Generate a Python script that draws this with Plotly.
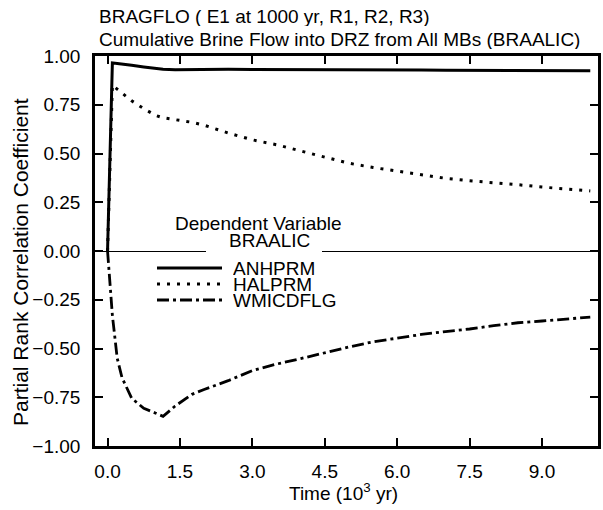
import plotly.graph_objects as go

# ---- data ----
time_kyr = [0, 0.1, 0.2, 0.3, 0.5, 0.75, 1.0, 1.15, 1.4, 1.75, 2.0, 2.5, 3.0, 3.5,
            4.0, 4.5, 5.0, 5.5, 6.0, 6.5, 7.0, 7.5, 8.0, 8.5, 9.0, 9.5, 10.0]
anhprm = [0, 0.965, 0.962, 0.958, 0.952, 0.944, 0.936, 0.932, 0.930, 0.931, 0.932, 0.932,
          0.931, 0.931, 0.930, 0.930, 0.929, 0.929, 0.928, 0.928, 0.927, 0.927, 0.926,
          0.926, 0.925, 0.925, 0.924]
halprm = [0, 0.85, 0.83, 0.81, 0.77, 0.73, 0.695, 0.683, 0.672, 0.66, 0.645, 0.605,
          0.57, 0.545, 0.513, 0.48, 0.45, 0.428, 0.41, 0.389, 0.373, 0.36, 0.351,
          0.34, 0.328, 0.317, 0.308]
wmicdflg = [0, -0.33, -0.55, -0.65, -0.755, -0.807, -0.832, -0.848, -0.795, -0.735,
            -0.71, -0.665, -0.613, -0.58, -0.552, -0.521, -0.492, -0.466, -0.447,
            -0.428, -0.413, -0.40, -0.383, -0.368, -0.359, -0.348, -0.339]

series_names = ["ANHPRM", "HALPRM", "WMICDFLG"]
x_ticks = [0.0, 1.5, 3.0, 4.5, 6.0, 7.5, 9.0]
y_ticks = [-1.0, -0.75, -0.5, -0.25, 0.0, 0.25, 0.5, 0.75, 1.0]
title_lines = ["BRAGFLO ( E1 at 1000 yr, R1, R2, R3)",
               "Cumulative Brine Flow into DRZ from All MBs (BRAALIC)"]
x_title = "Time (10<sup>3</sup> yr)"
y_title = "Partial Rank Correlation Coefficient"
legend_header = ["Dependent Variable", "BRAALIC"]

FONT = "Liberation Sans, Arial, Helvetica, sans-serif"
FS = 19
W, H = 603, 510
ML, MR, MT, MB = 95, 5, 56, 64
PW, PH = W - ML - MR, H - MT - MB

def px(xp):
    return (xp - ML) / PW

def py(yp):
    return (H - MB - yp) / PH

def txt(size=FS):
    return dict(size=size, color="black", family=FONT)

styles = [
    dict(color="black", width=3, dash="solid"),
    dict(color="black", width=3, dash="3px,7px"),
    dict(color="black", width=2.8, dash="12px,4px,3px,4px"),
]

fig = go.Figure()
for name, vals, st in zip(series_names, [anhprm, halprm, wmicdflg], styles):
    fig.add_trace(go.Scatter(x=time_kyr, y=vals, mode="lines", name=name,
                             line=st, showlegend=False, hoverinfo="skip"))

shapes = []
annotations = []
# titles as positioned text
for line, ty in zip(title_lines, [16, 39]):
    annotations.append(dict(text=line, xref="paper", yref="paper", x=px(97), y=py(ty),
                            xanchor="left", yanchor="middle", showarrow=False,
                            font=txt(), height=20))
annotations.append(dict(text=x_title, xref="paper", yref="paper", x=px(343), y=py(492),
                        xanchor="center", yanchor="middle", showarrow=False, font=txt()))
annotations.append(dict(text=y_title, xref="paper", yref="paper", x=px(20), y=py(262),
                        xanchor="center", yanchor="middle", textangle=-90,
                        showarrow=False, font=txt(21)))
# gap in zero line behind the legend header
shapes.append(dict(type="rect", xref="paper", yref="paper", x0=px(206), x1=px(322),
                   y0=py(256), y1=py(246), fillcolor="white", line=dict(width=0),
                   layer="above"))
annotations.append(dict(text=legend_header[0], xref="paper", yref="paper",
                        x=px(258), y=py(223), xanchor="center", yanchor="middle",
                        showarrow=False, font=txt(), height=16))
annotations.append(dict(text=legend_header[1], xref="paper", yref="paper",
                        x=px(269), y=py(240), xanchor="center", yanchor="middle",
                        showarrow=False, font=txt(), height=16))
legend_y = [268, 284, 300]
for name, st, ly in zip(series_names, styles, legend_y):
    shapes.append(dict(type="line", xref="paper", yref="paper", x0=px(157), x1=px(222),
                       y0=py(ly), y1=py(ly), line=st, layer="above"))
    annotations.append(dict(text=name, xref="paper", yref="paper", x=px(231), y=py(ly),
                            xanchor="left", yanchor="middle", showarrow=False,
                            font=txt(), height=15))

fig.update_layout(
    width=W, height=H,
    margin=dict(l=ML, r=MR, t=MT, b=MB, autoexpand=False),
    paper_bgcolor="white", plot_bgcolor="white",
    font=txt(),
    shapes=shapes, annotations=annotations,
    showlegend=False, hovermode=False,
)
fig.update_xaxes(
    range=[-0.26, 10.16], tickvals=x_ticks, tickformat=".1f",
    ticks="inside", ticklen=8, tickwidth=1.5, tickcolor="black",
    showline=True, linewidth=2.5, linecolor="black", mirror="ticks",
    showgrid=False, zeroline=False, automargin=False,
    tickfont=txt(), ticklabelstandoff=6,
)
fig.update_yaxes(
    range=[-1, 1], tickvals=y_ticks, tickformat=".2f",
    ticks="inside", ticklen=8, tickwidth=1.5, tickcolor="black",
    showline=True, linewidth=2.5, linecolor="black", mirror="ticks",
    showgrid=False, zeroline=True, zerolinecolor="black", zerolinewidth=1.2,
    automargin=False, tickfont=txt(), ticklabelstandoff=8,
)

fig.write_html("out.html", config={"displayModeBar": False},
               post_script="document.body.style.margin='0';")
